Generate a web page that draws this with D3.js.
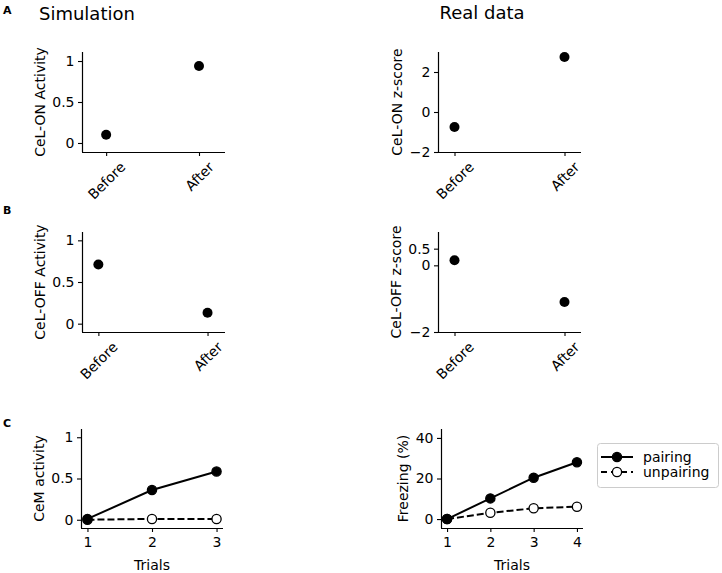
<!DOCTYPE html>
<html>
<head>
<meta charset="utf-8">
<script src="https://cdn.jsdelivr.net/npm/d3@7"></script>
<style>
  body { margin: 0; background: #fff; }
  text { font-family: "DejaVu Sans", sans-serif; fill: #000; }
</style>
</head>
<body>
<script>
// data
const phases = ['Before', 'After'];
const simOn = [0.10, 0.94];
const realOn = [-0.75, 2.75];
const simOff = [0.71, 0.13];
const realOff = [0.15, -1.1];

const simTrials = [1, 2, 3];
const simPairing = [0.01, 0.36, 0.585];
const simUnpairing = [0.0, 0.01, 0.01];
const realTrials = [1, 2, 3, 4];
const realPairing = [0, 10.2, 20.4, 28.0];
const realUnpairing = [0, 3.1, 5.3, 6.1];

const activityTicks = [0, 0.5, 1];
const zOnTicks = [-2, 0, 2];
const zOffTicks = [-2, 0, 0.5];
const freezeTicks = [0, 20, 40];

const legendLabels = ['pairing', 'unpairing'];

const width = 722;
const height = 573;
const fs = 14;

const svg = d3.select('body').append('svg').attr('width', width).attr('height', height);

const fmt = d3.format('~g');

// draws the spines, ticks and y label of one axes box, returns scales
const renderAxes = (p) => {
    const x = d3.scaleLinear().domain(p.xDomain).range([p.left, p.right]);
    const y = d3.scaleLinear().domain(p.yDomain).range([p.bottom, p.top]);
    const g = svg.append('g');

    const yAxis = g.append('g')
        .attr('transform', `translate(${p.left},0)`)
        .call(d3.axisLeft(y).tickValues(p.yTicks).tickFormat(fmt).tickSize(4).tickPadding(3.5).tickSizeOuter(0));
    yAxis.select('.domain').attr('d', `M0.5,${p.top}V${p.bottom}`);

    const xAxis = g.append('g')
        .attr('transform', `translate(0,${p.bottom})`)
        .call(d3.axisBottom(x).tickValues(p.xTicks).tickFormat(p.xFormat || fmt).tickSize(4).tickPadding(5).tickSizeOuter(0));
    xAxis.select('.domain').attr('d', `M${p.left},0.5H${p.right}`);

    g.selectAll('.domain').attr('stroke', '#000').attr('stroke-width', 1.2);
    g.selectAll('.tick line').attr('stroke', '#000').attr('stroke-width', 1.1);
    g.selectAll('.tick text').attr('font-size', fs).attr('font-family', 'DejaVu Sans');

    if (p.rotate) {
        xAxis.selectAll('.tick text')
            .attr('y', null).attr('dy', null)
            .attr('text-anchor', 'middle')
            .attr('dominant-baseline', 'central')
            .attr('transform', function () {
                const w = this.getComputedTextLength();
                const half = (w + fs) / (2 * Math.SQRT2);
                return `translate(0,${7.5 + half}) rotate(-45)`;
            });
    }

    // y label placed left of the widest tick label
    let maxW = 0;
    yAxis.selectAll('.tick text').each(function () { maxW = Math.max(maxW, this.getComputedTextLength()); });
    const lx = p.left - 7.5 - maxW - 4 - 3.5;
    g.append('text')
        .attr('transform', `translate(${lx},${(p.top + p.bottom) / 2}) rotate(-90)`)
        .attr('text-anchor', 'middle')
        .attr('font-size', fs)
        .text(p.yLabel);

    if (p.xLabel) {
        g.append('text')
            .attr('x', (p.left + p.right) / 2)
            .attr('y', 570)
            .attr('text-anchor', 'middle')
            .attr('font-size', fs)
            .text(p.xLabel);
    }
    return { x, y, g };
};

const renderDots = (p, values) => {
    const { x, y, g } = renderAxes(p);
    g.selectAll('circle.dot')
        .data(values)
        .join('circle')
        .attr('class', 'dot')
        .attr('cx', (d, i) => x(i))
        .attr('cy', (d) => y(d))
        .attr('r', 5)
        .attr('fill', '#000');
};

const renderTrials = (p, trials, pairing, unpairing) => {
    const { x, y, g } = renderAxes(p);
    const series = [
        { values: unpairing, dash: '7,3', fill: '#fff' },
        { values: pairing, dash: null, fill: '#000' }
    ];
    series.forEach((s) => {
        const pts = trials.map((t, i) => [t, s.values[i]]);
        g.append('path')
            .datum(pts)
            .attr('d', d3.line().x((d) => x(d[0])).y((d) => y(d[1])))
            .attr('fill', 'none')
            .attr('stroke', '#000')
            .attr('stroke-width', 2)
            .attr('stroke-dasharray', s.dash);
        g.append('g').selectAll('circle')
            .data(pts)
            .join('circle')
            .attr('cx', (d) => x(d[0]))
            .attr('cy', (d) => y(d[1]))
            .attr('r', 4.6)
            .attr('fill', s.fill)
            .attr('stroke', '#000')
            .attr('stroke-width', 1.3);
    });
};

const phaseFormat = (d) => phases[d];

// row A
renderDots({ left: 82, right: 225, top: 52, bottom: 152, xDomain: [-0.26, 1.28], yDomain: [-0.11, 1.11],
    yTicks: activityTicks, xTicks: [0, 1], xFormat: phaseFormat, rotate: true, yLabel: 'CeL-ON Activity' }, simOn);
renderDots({ left: 438, right: 581, top: 52, bottom: 152, xDomain: [-0.15, 1.15], yDomain: [-2, 3],
    yTicks: zOnTicks, xTicks: [0, 1], xFormat: phaseFormat, rotate: true, yLabel: 'CeL-ON z-score' }, realOn);

// row B
renderDots({ left: 82, right: 225, top: 232, bottom: 332, xDomain: [-0.15, 1.16], yDomain: [-0.1, 1.1],
    yTicks: activityTicks, xTicks: [0, 1], xFormat: phaseFormat, rotate: true, yLabel: 'CeL-OFF Activity' }, simOff);
renderDots({ left: 438, right: 581, top: 232, bottom: 332, xDomain: [-0.15, 1.15], yDomain: [-2, 1],
    yTicks: zOffTicks, xTicks: [0, 1], xFormat: phaseFormat, rotate: true, yLabel: 'CeL-OFF z-score' }, realOff);

// row C
renderTrials({ left: 81, right: 223, top: 429, bottom: 528, xDomain: [0.9, 3.1], yDomain: [-0.1, 1.1],
    yTicks: activityTicks, xTicks: simTrials, yLabel: 'CeM activity', xLabel: 'Trials' },
    simTrials, simPairing, simUnpairing);
renderTrials({ left: 441, right: 583, top: 429, bottom: 528, xDomain: [0.86, 4.14], yDomain: [-4.4, 44.4],
    yTicks: freezeTicks, xTicks: realTrials, yLabel: 'Freezing (%)', xLabel: 'Trials' },
    realTrials, realPairing, realUnpairing);

// column titles and panel letters
svg.append('text').attr('x', 39).attr('y', 20).attr('font-size', 18).text('Simulation');
svg.append('text').attr('x', 482).attr('y', 19).attr('text-anchor', 'middle').attr('font-size', 18).text('Real data');
[['A', 14], ['B', 214], ['C', 427]].forEach(([t, yy]) => {
    svg.append('text').attr('x', 3).attr('y', yy).attr('font-size', 11).attr('font-weight', 'bold').text(t);
});

// legend
const legend = svg.append('g');
legend.append('rect')
    .attr('x', 597.5).attr('y', 443.5).attr('width', 121).attr('height', 44)
    .attr('rx', 3).attr('fill', '#fff').attr('stroke', '#ccc');
legendLabels.forEach((label, i) => {
    const yy = 457 + i * 15;
    legend.append('line')
        .attr('x1', 601).attr('x2', 633).attr('y1', yy).attr('y2', yy)
        .attr('stroke', '#000').attr('stroke-width', 2)
        .attr('stroke-dasharray', i === 0 ? null : '6,4');
    legend.append('circle')
        .attr('cx', 617).attr('cy', yy).attr('r', 4.6)
        .attr('fill', i === 0 ? '#000' : '#fff')
        .attr('stroke', '#000').attr('stroke-width', 1.3);
    legend.append('text')
        .attr('x', 643).attr('y', yy + 5)
        .attr('font-size', fs)
        .text(label);
});
</script>
</body>
</html>
